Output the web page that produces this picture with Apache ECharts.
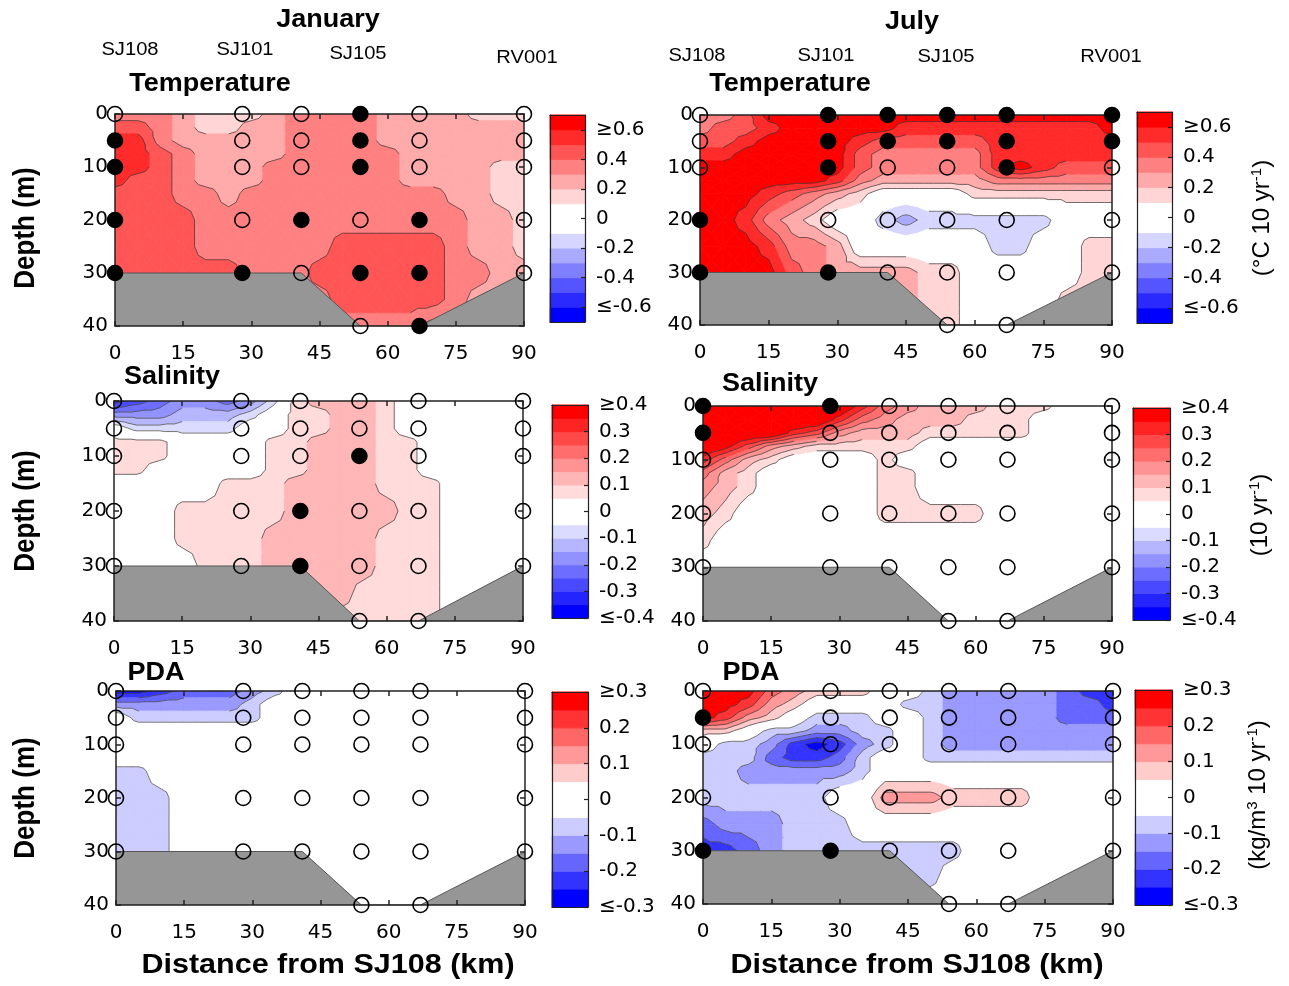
<!DOCTYPE html>
<html>
<head>
<meta charset="utf-8">
<script src="https://cdn.jsdelivr.net/npm/echarts@6.0.0/dist/echarts.min.js"></script>
<style>html,body{margin:0;background:#fff}#chart{width:1289px;height:986px}</style>
</head>
<body>
<div id="chart"></div>
<script>
// grid of the section: distance (km) and depth (m)
const distKm = [0,5,10,15,20,25,30,35,40,45,50,55,60,65,70,75,80,85,90];
const depthM = [0,2.5,5,7.5,10,12.5,15,20,25,30,35,40];

// stations and bottom
const stationX = [0,28,41,54,67,90];
const stationDepths = [[0,5,10,20,30],[0,5,10,20,30],[0,5,10,20,30],[0,5,10,20,30,40],[0,5,10,20,30,40],[0,5,10,20,30]];
const bottomX = [0,41,54,67,90];
const bottomDepth = [30,30,40,40,30];

// colorbar tick labels
const tempTicks = [-0.6,-0.4,-0.2,0,0.2,0.4,0.6];
const salTicks = [-0.4,-0.3,-0.2,-0.1,0,0.1,0.2,0.3,0.4];
const pdaTicks = [-0.3,-0.2,-0.1,0,0.1,0.2,0.3];

// trends, one row per depth
const janTemp = [
  [.35,.35,.35,.25,.15,.15,.15,.25,.35,.35,.35,.35,.25,.25,.25,.25,.15,.15,.15],
  [.45,.45,.35,.25,.15,.15,.25,.25,.35,.35,.35,.35,.25,.25,.25,.25,.25,.25,.25],
  [.55,.55,.35,.25,.25,.25,.25,.25,.35,.35,.35,.35,.25,.25,.25,.25,.25,.25,.25],
  [.55,.55,.45,.35,.25,.25,.25,.25,.35,.35,.35,.35,.35,.25,.25,.25,.25,.25,.25],
  [.55,.55,.45,.35,.25,.25,.25,.35,.35,.35,.35,.35,.35,.25,.25,.25,.25,.15,.15],
  [.55,.45,.45,.35,.25,.25,.25,.35,.35,.35,.35,.35,.35,.25,.25,.25,.25,.15,.15],
  [.45,.45,.45,.35,.35,.25,.35,.35,.35,.35,.35,.35,.35,.35,.35,.25,.25,.15,.15],
  [.45,.45,.45,.45,.35,.35,.35,.35,.35,.35,.35,.35,.35,.35,.35,.35,.25,.25,.15],
  [.45,.45,.45,.45,.35,.35,.35,.35,.35,.35,.45,.45,.45,.45,.45,.35,.25,.25,.15],
  [.45,.45,.45,.45,.45,.45,.35,.35,.35,.45,.45,.45,.45,.45,.45,.35,.35,.25,.25],
  [.45,.45,.45,.45,.45,.45,.35,.35,.35,.35,.45,.45,.45,.45,.45,.35,.25,.25,.25],
  [.35,.35,.35,.35,.35,.35,.35,.35,.35,.35,.35,.35,.35,.35,.25,.25,.25,.25,.25]
];
const julTemp = [
  [.35,.35,.45,.65,.65,.65,.65,.65,.65,.65,.65,.65,.65,.65,.65,.65,.65,.65,.65],
  [.35,.45,.45,.55,.65,.65,.65,.65,.65,.55,.55,.55,.55,.55,.55,.55,.55,.55,.65],
  [.45,.45,.55,.65,.65,.65,.65,.55,.45,.45,.45,.45,.45,.55,.55,.55,.55,.55,.55],
  [.55,.55,.65,.65,.65,.65,.65,.45,.35,.35,.35,.35,.35,.55,.55,.55,.55,.55,.55],
  [.65,.65,.65,.65,.65,.65,.65,.45,.35,.35,.35,.35,.35,.55,.65,.55,.45,.45,.45],
  [.65,.65,.65,.65,.65,.65,.55,.35,.25,.25,.25,.25,.25,.35,.35,.35,.35,.35,.35],
  [.65,.65,.65,.55,.45,.35,.25,.15,0,0,0,0,.15,.15,.15,.15,.15,.15,.15],
  [.65,.65,.55,.35,.25,.15,0,0,-.15,-.25,-.15,-.15,-.15,-.15,-.15,-.15,0,0,0],
  [.65,.65,.65,.55,.35,.35,.25,0,0,0,0,0,0,-.15,-.15,0,0,.15,.15],
  [.65,.65,.65,.65,.45,.35,.25,.25,.25,.25,.15,.15,0,0,0,0,0,.15,.15],
  [.65,.65,.65,.65,.45,.35,.25,.25,.25,.25,.15,.15,0,0,0,0,.15,.15,.15],
  [.65,.65,.65,.65,.45,.35,.25,.25,.25,.25,.15,.15,0,0,0,0,.15,.15,.15]
];
const janSal = [
  [-.325,-.275,-.225,-.175,-.175,-.225,-.175,-.075,.075,.125,.125,.125,.075,0,0,0,0,0,0],
  [-.175,-.175,-.175,-.125,-.125,-.125,-.075,0,.075,.075,.125,.125,.075,0,0,0,0,0,0],
  [0,-.075,-.075,-.075,-.075,-.075,0,0,.075,.075,.125,.125,.075,0,0,0,0,0,0],
  [.075,.075,.075,0,0,0,0,.075,.075,.125,.125,.125,.075,.075,0,0,0,0,0],
  [.075,.075,.075,0,0,0,0,.075,.075,.125,.125,.125,.075,.075,0,0,0,0,0],
  [.075,.075,0,0,0,0,0,.075,.075,.125,.125,.125,.075,.075,0,0,0,0,0],
  [0,0,0,0,0,.075,.075,.075,.125,.125,.125,.125,.075,.075,.075,0,0,0,0],
  [0,0,0,.075,.075,.075,.075,.075,.125,.125,.125,.125,.125,.075,.075,0,0,0,0],
  [0,0,0,.075,.075,.075,.075,.125,.125,.125,.125,.125,.075,.075,.075,0,0,0,0],
  [0,0,0,0,.075,.075,.075,.125,.125,.125,.125,.125,.075,.075,.075,0,0,0,0],
  [0,0,0,0,.075,.075,.075,.125,.125,.125,.125,.075,.075,.075,.075,0,0,0,0],
  [0,0,0,0,0,0,0,0,.125,.125,.075,.075,.075,.075,.075,0,0,0,0]
];
const julSal = [
  [.425,.425,.425,.425,.425,.425,.425,.325,.225,.175,.125,.125,.125,.075,.075,.075,0,0,0],
  [.425,.425,.425,.425,.425,.425,.325,.225,.175,.125,.125,.125,.075,.075,.075,0,0,0,0],
  [.425,.425,.425,.425,.325,.275,.175,.125,.125,.125,.075,.075,.075,.075,.075,0,0,0,0],
  [.425,.375,.275,.175,.125,.075,.075,.075,.075,.075,0,0,0,0,0,0,0,0,0],
  [.325,.225,.125,.075,0,0,0,0,.075,0,0,0,0,0,0,0,0,0,0],
  [.225,.125,.075,0,0,0,0,0,.075,.075,0,0,0,0,0,0,0,0,0],
  [.175,.125,.075,0,0,0,0,0,.075,.075,0,0,0,0,0,0,0,0,0],
  [.125,.075,0,0,0,0,0,0,.075,.075,.075,.075,.075,0,0,0,0,0,0],
  [.075,0,0,0,0,0,0,0,0,0,0,0,0,0,0,0,0,0,0],
  [0,0,0,0,0,0,0,0,0,0,0,0,0,0,0,0,0,0,0],
  [0,0,0,0,0,0,0,0,0,0,0,0,0,0,0,0,0,0,0],
  [0,0,0,0,0,0,0,0,0,0,0,0,0,0,0,0,0,0,0]
];
const janPda = [
  [-.275,-.275,-.225,-.175,-.175,-.175,-.125,-.075,0,0,0,0,0,0,0,0,0,0,0],
  [-.125,-.125,-.125,-.125,-.125,-.125,-.075,0,0,0,0,0,0,0,0,0,0,0,0],
  [0,-.075,-.075,-.075,-.075,-.075,-.075,0,0,0,0,0,0,0,0,0,0,0,0],
  [0,0,0,0,0,0,0,0,0,0,0,0,0,0,0,0,0,0,0],
  [0,0,0,0,0,0,0,0,0,0,0,0,0,0,0,0,0,0,0],
  [0,0,0,0,0,0,0,0,0,0,0,0,0,0,0,0,0,0,0],
  [-.075,-.075,0,0,0,0,0,0,0,0,0,0,0,0,0,0,0,0,0],
  [-.075,-.075,-.075,0,0,0,0,0,0,0,0,0,0,0,0,0,0,0,0],
  [-.075,-.075,-.075,0,0,0,0,0,0,0,0,0,0,0,0,0,0,0,0],
  [-.075,-.075,-.075,0,0,0,0,0,0,0,0,0,0,0,0,0,0,0,0],
  [0,0,0,0,0,0,0,0,0,0,0,0,0,0,0,0,0,0,0],
  [0,0,0,0,0,0,0,0,0,0,0,0,0,0,0,0,0,0,0]
];
const julPda = [
  [.275,.275,.275,.175,.125,.075,.075,.075,0,0,-.075,-.125,-.125,-.125,-.125,-.125,-.175,-.225,-.225],
  [.275,.275,.225,.125,.075,0,0,0,0,-.075,-.075,-.125,-.125,-.125,-.125,-.125,-.175,-.175,-.225],
  [.275,.225,.125,.075,0,-.075,-.075,-.075,0,0,-.075,-.125,-.125,-.125,-.125,-.125,-.175,-.175,-.175],
  [.075,.075,0,-.075,-.075,-.125,-.125,-.075,-.075,0,-.075,-.125,-.125,-.125,-.125,-.125,-.125,-.125,-.125],
  [0,-.075,-.075,-.125,-.225,-.275,-.225,-.125,-.075,0,-.075,-.125,-.125,-.125,-.125,-.125,-.125,-.125,-.125],
  [-.075,-.075,-.075,-.175,-.225,-.225,-.175,-.075,0,0,-.075,-.075,-.075,-.075,-.075,-.075,-.075,-.075,-.075],
  [-.075,-.075,-.125,-.125,-.125,-.125,-.125,-.075,0,0,0,0,0,0,0,0,0,0,0],
  [-.075,-.075,-.075,-.075,-.075,-.075,0,0,.125,.125,.125,.075,.075,.075,.075,0,0,0,0],
  [-.175,-.125,-.125,-.125,-.075,-.075,-.075,0,0,0,0,0,0,0,0,0,0,0,0],
  [-.225,-.225,-.175,-.125,-.075,-.075,-.075,-.075,-.075,-.075,-.075,-.075,0,0,0,0,0,0,0],
  [-.225,-.225,-.175,-.125,-.075,-.075,-.075,-.075,-.075,-.075,-.075,0,0,0,0,0,0,0,0],
  [-.225,-.225,-.175,-.125,-.075,-.075,-.075,-.075,-.075,-.075,0,0,0,0,0,0,0,0,0]
];

// significant trends (filled circles): [distance, depth]
const janTempFilled = [[54,0],[0,5],[54,5],[0,10],[54,10],[0,20],[41,20],[67,20],[0,30],[28,30],[54,30],[67,30],[67,40]];
const julTempFilled = [[28,0],[41,0],[54,0],[67,0],[90,0],[28,5],[41,5],[54,5],[67,5],[90,5],[28,10],[67,10],[0,20],[0,30],[28,30]];
const janSalFilled = [[54,10],[41,20],[41,30]];
const julSalFilled = [[0,0],[28,0],[0,5]];
const janPdaFilled = [];
const julPdaFilled = [[0,5],[0,30],[28,30]];

function scaleOf(step, n, lim, ticks) {
  // contour levels: ±step..±n*step (white band between -step and step)
  const edges = [];
  for (let k = n; k >= 1; k--) edges.push(+(-k * step).toFixed(3));
  for (let k = 1; k <= n; k++) edges.push(+(k * step).toFixed(3));
  return {step: step, n: n, min: -lim, max: lim, ticks: ticks, edges: edges};
}
const scales = {
  temp: scaleOf(0.1, 6, 0.7, tempTicks),
  sal:  scaleOf(0.05, 7, 0.4, salTicks),
  pda:  scaleOf(0.05, 5, 0.3, pdaTicks)
};

const panels = [
  {values:janTemp, filled:janTempFilled, sc:scales.temp, grid:[115,114,409,212], bar:[550,115,35,207]},
  {values:julTemp, filled:julTempFilled, sc:scales.temp, grid:[700,115,412,210], bar:[1137,112,35,211]},
  {values:janSal,  filled:janSalFilled,  sc:scales.sal,  grid:[114,401,409,220], bar:[552,405,36,213]},
  {values:julSal,  filled:julSalFilled,  sc:scales.sal,  grid:[703,406,409,215], bar:[1133,408,37,212]},
  {values:janPda,  filled:janPdaFilled,  sc:scales.pda,  grid:[116,691,409,214], bar:[552,692,36,215]},
  {values:julPda,  filled:julPdaFilled,  sc:scales.pda,  grid:[703,691,410,213], bar:[1135,690,37,215]}
];

const titleFont = 'Arial, "Liberation Sans", sans-serif';
const tickFont = '"DejaVu Sans", sans-serif';

function levelColor(v, step, n) {
  const k = Math.min(n, Math.floor(Math.abs(v) / step + 1e-9));
  if (k < 1) return '#ffffff';
  const c = Math.round(255 * (1 - k / n));
  return v > 0 ? 'rgb(255,' + c + ',' + c + ')' : 'rgb(' + c + ',' + c + ',255)';
}

// clip a polygon of [x, d, v] vertices to where f(v) >= 0 (f linear)
function clipPoly(poly, f) {
  const out = [];
  for (let i = 0; i < poly.length; i++) {
    const a = poly[i], b = poly[(i + 1) % poly.length];
    const fa = f(a[2]), fb = f(b[2]);
    if (fa >= 0) out.push(a);
    if ((fa >= 0) !== (fb >= 0)) {
      const t = fa / (fa - fb);
      out.push([a[0] + t * (b[0] - a[0]), a[1] + t * (b[1] - a[1]), a[2] + t * (b[2] - a[2])]);
    }
  }
  return out;
}
// the four triangles of one grid square (split at its centre)
function squareTris(vals, c, r) {
  const p = [
    [distKm[c], depthM[r], vals[r][c]],
    [distKm[c + 1], depthM[r], vals[r][c + 1]],
    [distKm[c + 1], depthM[r + 1], vals[r + 1][c + 1]],
    [distKm[c], depthM[r + 1], vals[r + 1][c]]
  ];
  const m = [(p[0][0] + p[1][0]) / 2, (p[0][1] + p[3][1]) / 2, (p[0][2] + p[1][2] + p[2][2] + p[3][2]) / 4];
  return [[p[0], p[1], m], [p[1], p[2], m], [p[2], p[3], m], [p[3], p[0], m]];
}

const stations = [];
stationX.forEach((x, k) => stationDepths[k].forEach(d => stations.push([x, d])));

const grids = [], xAxes = [], yAxes = [], series = [];
const axLine = {color: '#222', width: 1.5};

panels.forEach((p, i) => {
  const g = p.grid, sc = p.sc, vals = p.values;
  grids.push({left: g[0], top: g[1], width: g[2], height: g[3], outerBoundsMode: 'none'});
  ['bottom', 'top'].forEach(pos => xAxes.push({
    gridIndex: i, type: 'value', position: pos, min: 0, max: 90, interval: 15, z: 10,
    axisLine: {show: true, onZero: false, lineStyle: axLine},
    axisTick: {show: true, inside: true, length: 5, lineStyle: axLine},
    axisLabel: {show: pos === 'bottom', fontSize: 20, color: '#000', fontFamily: tickFont, margin: 18},
    splitLine: {show: false}
  }));
  ['left', 'right'].forEach(pos => yAxes.push({
    gridIndex: i, type: 'value', position: pos, inverse: true, min: 0, max: 40, interval: 10, z: 10,
    axisLine: {show: true, onZero: false, lineStyle: axLine},
    axisTick: {show: true, inside: true, length: 5, lineStyle: axLine},
    axisLabel: {show: pos === 'left', fontSize: 20, color: '#000', fontFamily: tickFont, margin: 7},
    splitLine: {show: false}
  }));

  const squares = [];
  for (let r = 0; r < depthM.length - 1; r++)
    for (let c = 0; c < distKm.length - 1; c++) squares.push([distKm[c], depthM[r], c, r]);

  // filled contour bands
  series.push({
    type: 'custom', xAxisIndex: 2 * i, yAxisIndex: 2 * i, clip: true, silent: true, z: 2,
    encode: {x: 0, y: 1}, data: squares,
    renderItem: (params, api) => {
      const children = [];
      const e = sc.edges;
      squareTris(vals, api.value(2), api.value(3)).forEach(tri => {
        for (let b = 0; b <= e.length; b++) {
          const lo = b === 0 ? -Infinity : e[b - 1];
          const hi = b === e.length ? Infinity : e[b];
          let poly = tri;
          if (lo > -Infinity) poly = clipPoly(poly, v => v - lo);
          if (poly.length >= 3 && hi < Infinity) poly = clipPoly(poly, v => hi - v);
          if (poly.length < 3) continue;
          const rep = lo === -Infinity ? hi - sc.step / 2 : hi === Infinity ? lo + sc.step / 2 : (lo + hi) / 2;
          const col = levelColor(rep, sc.step, sc.n);
          children.push({
            type: 'polygon', shape: {points: poly.map(q => api.coord([q[0], q[1]]))},
            style: {fill: col, stroke: col, lineWidth: 0.8}
          });
        }
      });
      return {type: 'group', children: children};
    }
  });
  // contour lines
  series.push({
    type: 'custom', xAxisIndex: 2 * i, yAxisIndex: 2 * i, clip: true, silent: true, z: 3,
    encode: {x: 0, y: 1}, data: squares,
    renderItem: (params, api) => {
      const children = [];
      squareTris(vals, api.value(2), api.value(3)).forEach(tri => {
        sc.edges.forEach(L => {
          const pts = [];
          for (let k = 0; k < 3; k++) {
            const a = tri[k], b = tri[(k + 1) % 3];
            if ((a[2] - L) * (b[2] - L) < 0) {
              const t = (L - a[2]) / (b[2] - a[2]);
              pts.push(api.coord([a[0] + t * (b[0] - a[0]), a[1] + t * (b[1] - a[1])]));
            }
          }
          if (pts.length === 2) children.push({
            type: 'line', shape: {x1: pts[0][0], y1: pts[0][1], x2: pts[1][0], y2: pts[1][1]},
            style: {stroke: '#3a3a3a', lineWidth: 0.7}
          });
        });
      });
      return {type: 'group', children: children};
    }
  });
  // sea bottom
  series.push({
    type: 'line', xAxisIndex: 2 * i, yAxisIndex: 2 * i, silent: true, z: 4, symbol: 'none',
    data: bottomX.map((x, k) => [x, bottomDepth[k]]),
    lineStyle: {color: '#555', width: 1},
    areaStyle: {color: '#969696', opacity: 1, origin: 'end'}
  });
  series.push({
    type: 'scatter', xAxisIndex: 2 * i, yAxisIndex: 2 * i, clip: false, silent: true, z: 12,
    data: stations, symbol: 'circle', symbolSize: 15,
    itemStyle: {color: 'rgba(0,0,0,0)', borderColor: '#000', borderWidth: 1.6, opacity: 1}
  });
  series.push({
    type: 'scatter', xAxisIndex: 2 * i, yAxisIndex: 2 * i, clip: false, silent: true, z: 13,
    data: p.filled, symbol: 'circle', symbolSize: 15, itemStyle: {color: '#000', opacity: 1}
  });
});

// colorbars
panels.forEach((p, j) => {
  const b = p.bar, sc = p.sc, gi = 6 + j;
  grids.push({left: b[0], top: b[1], width: b[2], height: b[3], outerBoundsMode: 'none'});
  ['bottom', 'top'].forEach(pos => xAxes.push({
    gridIndex: gi, type: 'value', position: pos, min: 0, max: 1, z: 10,
    axisLine: {show: true, onZero: false, lineStyle: {color: '#222', width: 1.2}},
    axisTick: {show: false}, axisLabel: {show: false}, splitLine: {show: false}
  }));
  yAxes.push({
    gridIndex: gi, type: 'value', position: 'right', min: sc.min, max: sc.max, z: 10,
    axisLine: {show: true, onZero: false, lineStyle: {color: '#222', width: 1.2}},
    axisTick: {show: true, inside: true, length: 4, customValues: sc.ticks, lineStyle: {color: '#222', width: 1.2}},
    axisLabel: {
      show: true, customValues: sc.ticks, fontSize: 20, color: '#000', fontFamily: tickFont, margin: 11,
      formatter: v => {
        const t = +(+v).toFixed(2);
        if (t >= sc.ticks[sc.ticks.length - 1] - 1e-9) return '≥' + t;
        if (t <= sc.ticks[0] + 1e-9) return '≤' + t;
        return String(t);
      }
    },
    splitLine: {show: false}
  });
  yAxes.push({
    gridIndex: gi, type: 'value', position: 'left', min: sc.min, max: sc.max, z: 10,
    axisLine: {show: true, onZero: false, lineStyle: {color: '#222', width: 1.2}},
    axisTick: {show: false}, axisLabel: {show: false}, splitLine: {show: false}
  });
  const bins = [];
  const nb = Math.round((sc.max - sc.min) / sc.step);
  for (let k = 0; k < nb; k++) bins.push([0.5, sc.min + k * sc.step, sc.min + (k + 1) * sc.step]);
  series.push({
    type: 'custom', xAxisIndex: 12 + 2 * j, yAxisIndex: 12 + 2 * j, silent: true, z: 2,
    encode: {x: 0, y: [1, 2]}, data: bins,
    renderItem: (params, api) => {
      const lo = api.value(1), hi = api.value(2);
      const a = api.coord([0, hi]), c = api.coord([1, lo]);
      const col = levelColor((lo + hi) / 2, sc.step, sc.n);
      return {type: 'rect', shape: {x: a[0], y: a[1], width: c[0] - a[0], height: c[1] - a[1]},
              style: {fill: col, stroke: col, lineWidth: 1}};
    }
  });
});

function txt(text, x, y, font, opts) {
  opts = opts || {};
  return {
    type: 'text', x: x, y: y, rotation: opts.rot || 0, scaleX: opts.sx || 1, scaleY: opts.sy || 1,
    silent: true, z: 20,
    style: {text: text, font: font + ' ' + titleFont, fill: '#000', align: 'center', verticalAlign: 'middle',
            textAlign: 'center', textVerticalAlign: 'middle', rich: opts.rich}
  };
}
const supRich = {sup: {fontSize: 15, verticalAlign: 'top', lineHeight: 26, fontFamily: titleFont}};
const up = Math.PI / 2;
const graphics = [
  txt('January', 328, 20, 'bold 25px', {sx: 1.08}),
  txt('July', 912, 22, 'bold 25px', {sx: 1.08}),
  txt('SJ108', 130, 50, '18px', {sx: 1.12}), txt('SJ101', 245, 50, '18px', {sx: 1.12}),
  txt('SJ105', 358, 54, '18px', {sx: 1.12}), txt('RV001', 527, 58, '18px', {sx: 1.12}),
  txt('SJ108', 697, 56, '18px', {sx: 1.12}), txt('SJ101', 826, 56, '18px', {sx: 1.12}),
  txt('SJ105', 946, 57, '18px', {sx: 1.12}), txt('RV001', 1111, 57, '18px', {sx: 1.12}),
  txt('Temperature', 210, 84, 'bold 25px', {sx: 1.08}), txt('Temperature', 790, 84, 'bold 25px', {sx: 1.08}),
  txt('Salinity', 172, 377, 'bold 25px', {sx: 1.08}), txt('Salinity', 770, 384, 'bold 25px', {sx: 1.08}),
  txt('PDA', 156, 673, 'bold 25px', {sx: 1.08}), txt('PDA', 751, 673, 'bold 25px', {sx: 1.08}),
  txt('Depth (m)', 26, 228, 'bold 26px', {rot: up, sy: 1.1}),
  txt('Depth (m)', 26, 511, 'bold 26px', {rot: up, sy: 1.1}),
  txt('Depth (m)', 26, 798, 'bold 26px', {rot: up, sy: 1.1}),
  txt('Distance from SJ108 (km)', 328, 965, 'bold 28px', {sx: 1.09}),
  txt('Distance from SJ108 (km)', 917, 965, 'bold 28px', {sx: 1.09}),
  txt('(°C 10 yr{sup|-1})', 1262, 218, '24px', {rot: up, rich: supRich}),
  txt('(10 yr{sup|-1})', 1260, 515, '24px', {rot: up, rich: supRich}),
  txt('(kg/m{sup|3} 10 yr{sup|-1})', 1258, 795, '24px', {rot: up, rich: supRich})
];

const chart = echarts.init(document.getElementById('chart'), null, {renderer: 'canvas'});
chart.setOption({
  animation: false,
  backgroundColor: '#fff',
  grid: grids,
  xAxis: xAxes,
  yAxis: yAxes,
  series: series,
  graphic: graphics
});
</script>
</body>
</html>
